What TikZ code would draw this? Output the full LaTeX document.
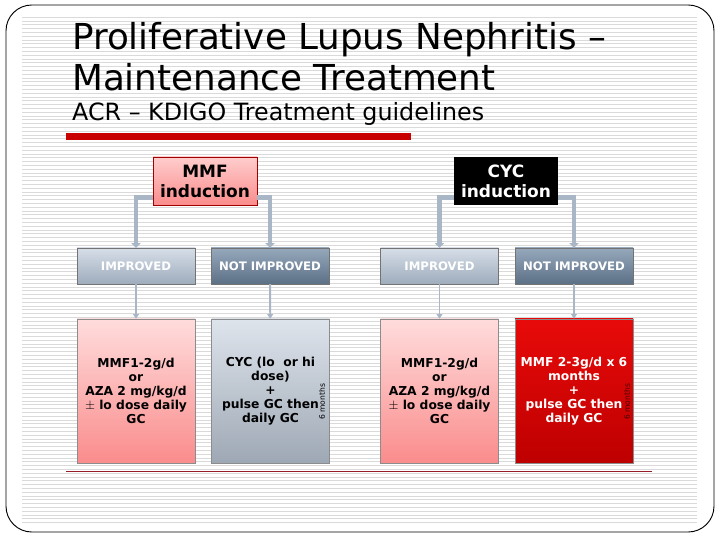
\documentclass[tikz,border=0pt]{standalone}
\usepackage{fontspec}
\setmainfont{DejaVu Sans}
\usetikzlibrary{arrows.meta, positioning, calc}

\definecolor{slideline}{RGB}{218,218,218}
\definecolor{barred}{RGB}{200,0,0}
\definecolor{rulered}{RGB}{150,30,40}
\definecolor{connblue}{RGB}{168,182,198}
\definecolor{pinktop}{RGB}{255,205,205}
\definecolor{pinkbot}{RGB}{250,140,140}
\definecolor{graytop}{RGB}{222,228,236}
\definecolor{graybot}{RGB}{158,168,180}
\definecolor{redtop}{RGB}{232,10,10}
\definecolor{redbot}{RGB}{190,0,0}
\definecolor{imptop}{RGB}{214,222,232}
\definecolor{impbot}{RGB}{158,172,188}
\definecolor{nimptop}{RGB}{150,168,188}
\definecolor{nimpbot}{RGB}{92,112,134}

\begin{document}
\begin{tikzpicture}[
    x=0.03cm, y=-0.03cm,
    induct/.style={rectangle, minimum width=104*0.03cm, minimum height=48*0.03cm, align=center,
      font=\fontsize{14.5}{17}\selectfont\bfseries, inner sep=0pt},
    result/.style={rectangle, draw=black!55, minimum width=118*0.03cm, minimum height=36*0.03cm,
      text=white, font=\fontsize{10}{11}\selectfont\bfseries, inner sep=0pt},
    detail/.style={rectangle, draw=black!45, minimum width=118*0.03cm, minimum height=144*0.03cm,
      align=center, font=\fontsize{10.5}{12}\selectfont\bfseries, inner sep=0pt},
    months/.style={rotate=90, font=\fontsize{6.5}{7}\selectfont},
    conn/.style={draw=connblue, line width=4pt, -{Triangle[width=8pt,length=4pt]}},
    stub/.style={draw=connblue, line width=1.6pt, -{Triangle[width=5pt,length=4pt]}}
  ]
  \useasboundingbox (0,0) rectangle (720,540);

  % ---- slide background ----
  \foreach \yy in {17,20.8,...,526} {
    \draw[slideline, line width=0.5pt] (22,\yy) -- (697,\yy);
  }
  \draw[black, line width=0.8pt, rounded corners=22] (6,5) rectangle (714,532);

  % ---- title ----
  \node[anchor=base west, inner sep=0pt, font=\fontsize{30.5}{36}\selectfont] (t1) at (72,50) {Proliferative Lupus Nephritis --};
  \node[anchor=base west, inner sep=0pt, font=\fontsize{30.5}{36}\selectfont] (t2) at (72,91) {Maintenance Treatment};
  \node[anchor=base west, inner sep=0pt, font=\fontsize{20.3}{24}\selectfont] (t3) at (72,121) {ACR -- KDIGO Treatment guidelines};
  \fill[barred] (66,133) rectangle (411,140);

  % ---- MMF branch ----
  \node[induct, draw=barred!80!black, top color=pinktop, bottom color=pinkbot] (mmf) at (205,181) {MMF\\induction};
  \node[result, top color=imptop, bottom color=impbot] (imp1) at (136,266) {IMPROVED};
  \node[result, top color=nimptop, bottom color=nimpbot] (nimp1) at (270,266) {NOT IMPROVED};
  \node[detail, top color=pinktop!70!white, bottom color=pinkbot] (det1) at (136,391)
    {MMF1-2g/d\\or\\AZA 2 mg/kg/d\\$\pm$ lo dose daily\\GC};
  \node[detail, top color=graytop, bottom color=graybot] (det2) at (270.5,391)
    {CYC (lo \ or hi\\dose)\\+\\pulse GC then\\daily GC};
  \node[months] (m1) at (322,402) {6 months};

  % ---- CYC branch ----
  \node[induct, fill=black, text=white] (cyc) at (506,181) {CYC\\induction};
  \node[result, top color=imptop, bottom color=impbot] (imp2) at (439.5,266) {IMPROVED};
  \node[result, top color=nimptop, bottom color=nimpbot] (nimp2) at (574,266) {NOT IMPROVED};
  \node[detail, top color=pinktop!70!white, bottom color=pinkbot] (det3) at (439.5,391)
    {MMF1-2g/d\\or\\AZA 2 mg/kg/d\\$\pm$ lo dose daily\\GC};
  \node[detail, top color=redtop, bottom color=redbot, text=white] (det4) at (574,391)
    {MMF 2-3g/d x 6\\months\\+\\pulse GC then\\daily GC};
  \node[months, text=black!70!red] (m2) at (627,402) {6 months};

  % ---- connectors ----
  \draw[conn] ($(mmf.south west)+(0,-8)$) -| (imp1.north);
  \draw[conn] ($(mmf.south east)+(0,-8)$) -| (nimp1.north);
  \draw[conn] ($(cyc.south west)+(0,-8)$) -| (imp2.north);
  \draw[conn] ($(cyc.south east)+(0,-8)$) -| (nimp2.north);
  \draw[stub] (imp1) -- (det1);
  \draw[stub] (nimp1) -- (det2);
  \draw[stub] (imp2) -- (det3);
  \draw[stub] (nimp2) -- (det4);

  % bottom rule
  \draw[rulered, line width=0.8pt] (66,471) -- (652,471);
\end{tikzpicture}
\end{document}
